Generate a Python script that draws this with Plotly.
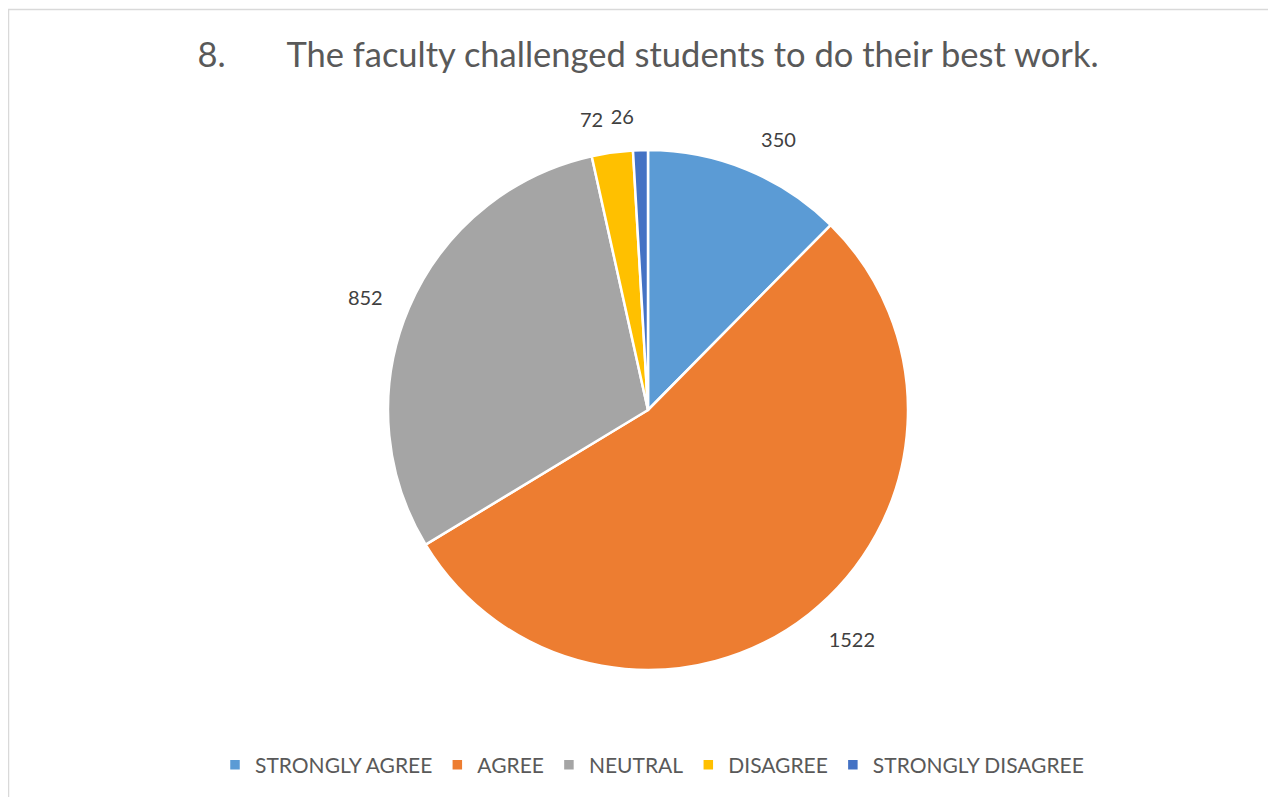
import plotly.graph_objects as go

categories = ["STRONGLY AGREE", "AGREE", "NEUTRAL", "DISAGREE", "STRONGLY DISAGREE"]
values = [350, 1522, 852, 72, 26]
colors = ["#5B9BD5", "#ED7D31", "#A5A5A5", "#FFC000", "#4472C4"]
title_text = "8.\u00a0\u00a0\u00a0\u00a0\u00a0\u00a0\u00a0The faculty challenged students to do their best work."

W, H = 1276, 797
# page body has an 8px offset; coordinates below are relative to the figure origin
cx, cy, r = 640, 402, 260
r_lab = 282  # radius of the transparent label rings


def dom(rad):
    return dict(x=[(cx - rad) / W, (cx + rad) / W], y=[(H - cy - rad) / H, (H - cy + rad) / H])


def label_ring(show):
    return go.Pie(
        labels=categories,
        values=values,
        sort=False,
        direction="clockwise",
        rotation=0,
        marker=dict(colors=["rgba(0,0,0,0)"] * len(values), line=dict(width=0)),
        texttemplate=["%{value}" if s else "" for s in show],
        textposition=["outside" if s else "none" for s in show],
        textfont=dict(size=20, color="#404040", family="Lato"),
        domain=dom(r_lab),
        showlegend=False,
        hoverinfo="skip",
    )


n = len(values)
fig = go.Figure()
# transparent rings that only carry the outside value labels (last label on its own ring)
fig.add_trace(label_ring([i < n - 1 for i in range(n)]))
fig.add_trace(label_ring([i == n - 1 for i in range(n)]))
fig.add_trace(go.Pie(
    labels=categories,
    values=values,
    sort=False,
    direction="clockwise",
    rotation=0,
    marker=dict(colors=colors, line=dict(color="white", width=2.5)),
    textinfo="none",
    domain=dom(r),
    showlegend=True,
))

fig.update_layout(
    width=W, height=H,
    margin=dict(l=0, r=0, t=0, b=0),
    paper_bgcolor="white",
    font=dict(family="Lato", color="#595959"),
    title=dict(text=title_text, x=640 / W, xanchor="center", y=1 - 47 / H, yanchor="middle",
               font=dict(size=34.5, color="#595959", family="Lato")),
    legend=dict(orientation="h", x=644 / W, xanchor="center", y=1 - 757 / H, yanchor="middle",
                font=dict(size=21, color="#595959", family="Lato"), itemwidth=30),
    shapes=[dict(type="rect", xref="paper", yref="paper", x0=0.5 / W, x1=1.02, y0=-0.02, y1=1 - 1.5 / H,
                 line=dict(color="#D9D9D9", width=1.5))],
)

fig.write_html("out.html")
